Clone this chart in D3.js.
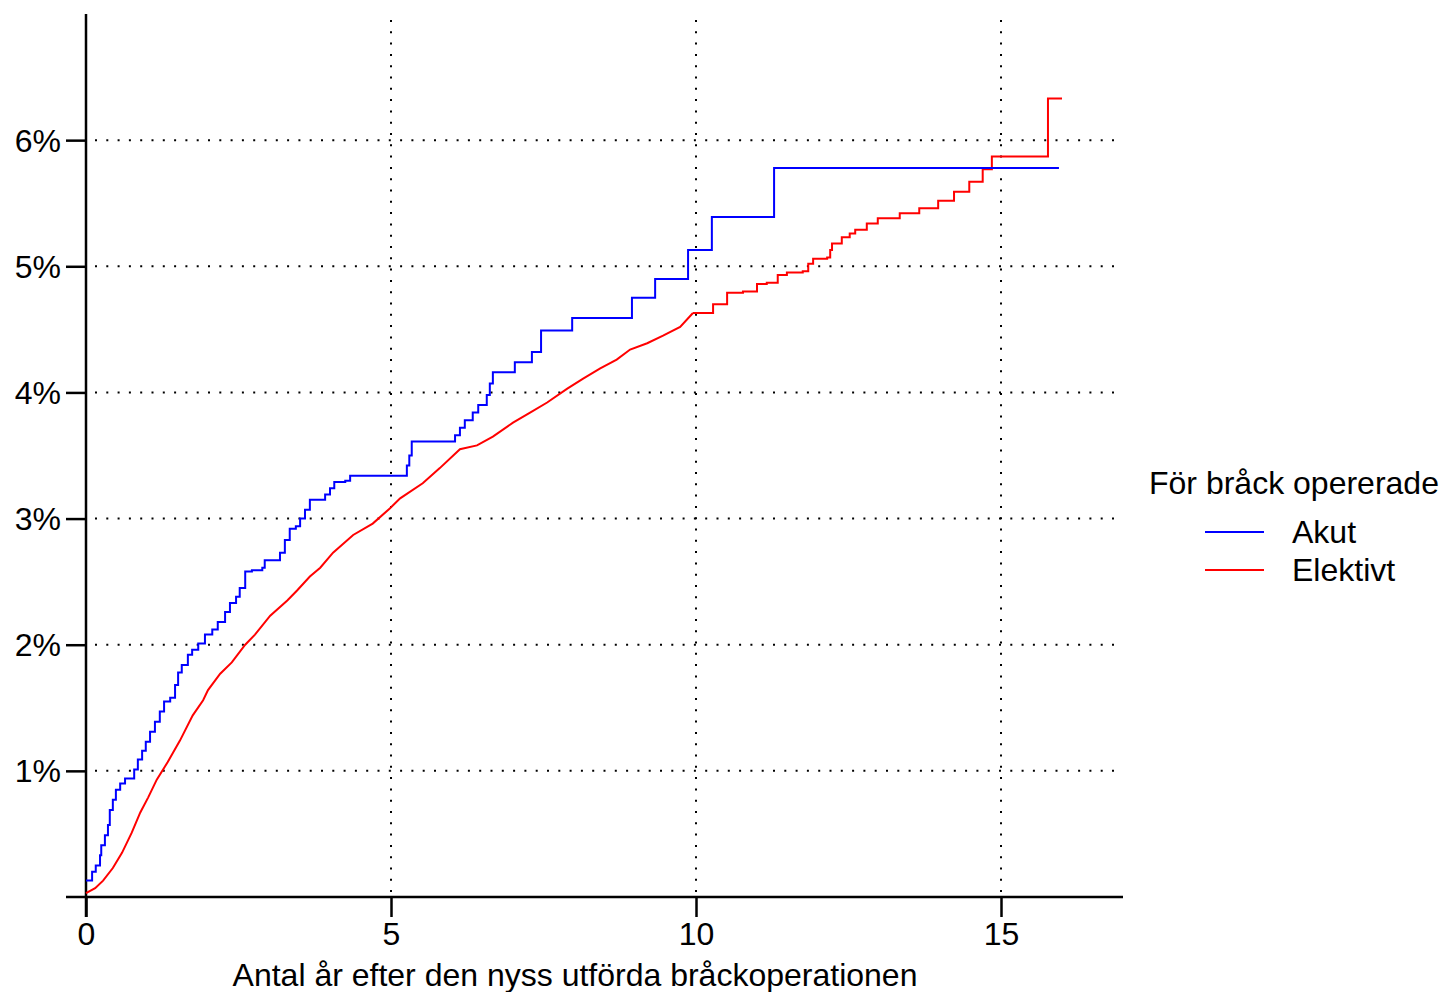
<!DOCTYPE html>
<html>
<head>
<meta charset="utf-8">
<script src="https://cdn.jsdelivr.net/npm/d3@7"></script>
<style>
  body { margin: 0; background: #fff; }
  svg { font-family: "Liberation Sans", Arial, sans-serif; }
</style>
</head>
<body>
<svg id="chart" width="1443" height="992"></svg>
<script>
// Kumulativ andel (%) mot antal år efter operationen
const akutTid = [0, 0.1, 0.16, 0.23, 0.25, 0.31, 0.36, 0.39, 0.44, 0.49, 0.56, 0.64, 0.79, 0.85,
  0.92, 0.98, 1.05, 1.13, 1.21, 1.28, 1.38, 1.46, 1.51, 1.57, 1.67, 1.74, 1.84, 1.95, 2.07, 2.16,
  2.28, 2.36, 2.46, 2.52, 2.61, 2.72, 2.89, 2.93, 3.18, 3.26, 3.34, 3.44, 3.51, 3.59, 3.67, 3.92,
  4.0, 4.07, 4.25, 4.33, 5.26, 5.3, 5.34, 6.05, 6.13, 6.21, 6.34, 6.43, 6.57, 6.62, 6.67, 7.03,
  7.31, 7.46, 7.97, 8.95, 9.33, 9.87, 10.26, 11.28, 15.95];
const akutAndel = [0.13, 0.2, 0.25, 0.33, 0.41, 0.49, 0.57, 0.69, 0.77, 0.85, 0.9, 0.94, 1.01, 1.09,
  1.16, 1.23, 1.31, 1.39, 1.47, 1.55, 1.58, 1.68, 1.78, 1.84, 1.92, 1.96, 2.01, 2.08, 2.12, 2.18,
  2.26, 2.33, 2.38, 2.45, 2.58, 2.59, 2.61, 2.67, 2.73, 2.83, 2.92, 2.94, 3.0, 3.07, 3.15, 3.19,
  3.24, 3.29, 3.3, 3.34, 3.42, 3.5, 3.61, 3.66, 3.72, 3.78, 3.84, 3.9, 3.98, 4.07, 4.16, 4.24,
  4.32, 4.49, 4.59, 4.75, 4.9, 5.13, 5.39, 5.78, 5.78];

// Elektivt: jämn del (många små steg) och sen del med synliga steg
const elektivTid = [0, 0.15, 0.28, 0.44, 0.59, 0.75, 0.89, 1.02, 1.16, 1.34, 1.54, 1.75, 1.92, 2.0,
  2.2, 2.39, 2.61, 2.77, 3.02, 3.3, 3.46, 3.67, 3.84, 4.05, 4.38, 4.7, 4.98, 5.15, 5.52, 5.8, 6.13,
  6.41, 6.67, 7.0, 7.28, 7.56, 7.89, 8.15, 8.43, 8.7, 8.92, 9.2, 9.46, 9.74, 9.95];
const elektivAndel = [0.03, 0.07, 0.13, 0.23, 0.35, 0.51, 0.67, 0.79, 0.93, 1.07, 1.24, 1.44, 1.56,
  1.64, 1.77, 1.86, 2.0, 2.08, 2.23, 2.35, 2.43, 2.54, 2.61, 2.73, 2.87, 2.96, 3.08, 3.16, 3.28,
  3.4, 3.55, 3.58, 3.65, 3.76, 3.84, 3.92, 4.03, 4.11, 4.19, 4.26, 4.34, 4.39, 4.45, 4.52, 4.63];
const elektivStegTid = [9.95, 10.28, 10.51, 10.77, 11.0, 11.16, 11.34, 11.49, 11.75, 11.84, 11.92,
  12.15, 12.2, 12.23, 12.39, 12.52, 12.61, 12.8, 12.98, 13.34, 13.66, 13.97, 14.23, 14.48, 14.7,
  14.85, 15.77, 16.0];
const elektivStegAndel = [4.63, 4.7, 4.79, 4.8, 4.86, 4.87, 4.93, 4.95, 4.96, 5.02, 5.06, 5.07,
  5.13, 5.18, 5.23, 5.26, 5.29, 5.34, 5.38, 5.42, 5.46, 5.52, 5.59, 5.67, 5.77, 5.87, 6.33, 6.33];

const xTicks = [0, 5, 10, 15];
const yTicks = [1, 2, 3, 4, 5, 6];
const serier = ["Akut", "Elektivt"];
const farger = ["#0000ff", "#ff0000"];

const svg = d3.select("#chart");
const fs = 32;

const x = d3.scaleLinear().domain([0, 17]).range([86, 1123]);
const y = d3.scaleLinear().domain([0, 7]).range([897, 14]);

// Rutnät (prickat)
svg.append("g")
  .selectAll("line")
  .data(yTicks)
  .enter()
  .append("line")
  .attr("x1", 95)
  .attr("x2", 1117)
  .attr("y1", (d) => y(d))
  .attr("y2", (d) => y(d))
  .attr("stroke", "#000")
  .attr("stroke-width", 2)
  .attr("stroke-dasharray", "2 9.3");

svg.append("g")
  .selectAll("line")
  .data(xTicks.filter((d) => d > 0))
  .enter()
  .append("line")
  .attr("x1", (d) => x(d))
  .attr("x2", (d) => x(d))
  .attr("y1", 20)
  .attr("y2", 893)
  .attr("stroke", "#000")
  .attr("stroke-width", 2)
  .attr("stroke-dasharray", "2 9.3");

// Axlar
const xAxis = d3.axisBottom(x).tickValues(xTicks).tickSize(20).tickPadding(5).tickFormat(d3.format("d"));
const gx = svg.append("g").attr("transform", `translate(0,${y(0)})`).call(xAxis);
gx.select(".domain").attr("d", `M66,0H1123`);

const yAxis = d3.axisLeft(y).tickValues(yTicks).tickSize(20).tickPadding(5).tickFormat((d) => d + "%");
const gy = svg.append("g").attr("transform", `translate(${x(0)},0)`).call(yAxis);
gy.select(".domain").attr("d", `M0,${y(7)}V${y(0) + 20}`);

svg.selectAll(".domain").attr("stroke", "#000").attr("stroke-width", 2.5);
svg.selectAll(".tick line").attr("stroke", "#000").attr("stroke-width", 2.5);
svg.selectAll(".tick text").attr("font-size", fs).attr("fill", "#000")
  .attr("font-family", "Liberation Sans, Arial, sans-serif");
gy.selectAll(".tick text").attr("dy", "0.34em");

svg.append("text")
  .attr("x", 575)
  .attr("y", 986)
  .attr("text-anchor", "middle")
  .attr("font-size", fs)
  .text("Antal år efter den nyss utförda bråckoperationen");

// Kurvor
const stegLinje = d3.line().x((d) => x(d[0])).y((d) => y(d[1])).curve(d3.curveStepAfter);
const jamnLinje = d3.line().x((d) => x(d[0])).y((d) => y(d[1]));

svg.append("path")
  .datum(d3.zip(elektivTid, elektivAndel))
  .attr("d", jamnLinje)
  .attr("fill", "none")
  .attr("stroke", farger[1])
  .attr("stroke-width", 2);

svg.append("path")
  .datum(d3.zip(elektivStegTid, elektivStegAndel))
  .attr("d", stegLinje)
  .attr("fill", "none")
  .attr("stroke", farger[1])
  .attr("stroke-width", 2);

svg.append("path")
  .datum(d3.zip(akutTid, akutAndel))
  .attr("d", stegLinje)
  .attr("fill", "none")
  .attr("stroke", farger[0])
  .attr("stroke-width", 2);

// Legend
const legend = svg.append("g");
legend.append("text")
  .attr("x", 1149)
  .attr("y", 494)
  .attr("font-size", fs)
  .text("För bråck opererade");

const rad = legend.selectAll(".rad")
  .data(serier)
  .enter()
  .append("g")
  .attr("transform", (d, i) => `translate(0,${532 + i * 38})`);

rad.append("line")
  .attr("x1", 1205)
  .attr("x2", 1264)
  .attr("stroke", (d, i) => farger[i])
  .attr("stroke-width", 2);

rad.append("text")
  .attr("x", 1292)
  .attr("y", 0)
  .attr("dy", "0.35em")
  .attr("font-size", fs)
  .text((d) => d);
</script>
</body>
</html>
